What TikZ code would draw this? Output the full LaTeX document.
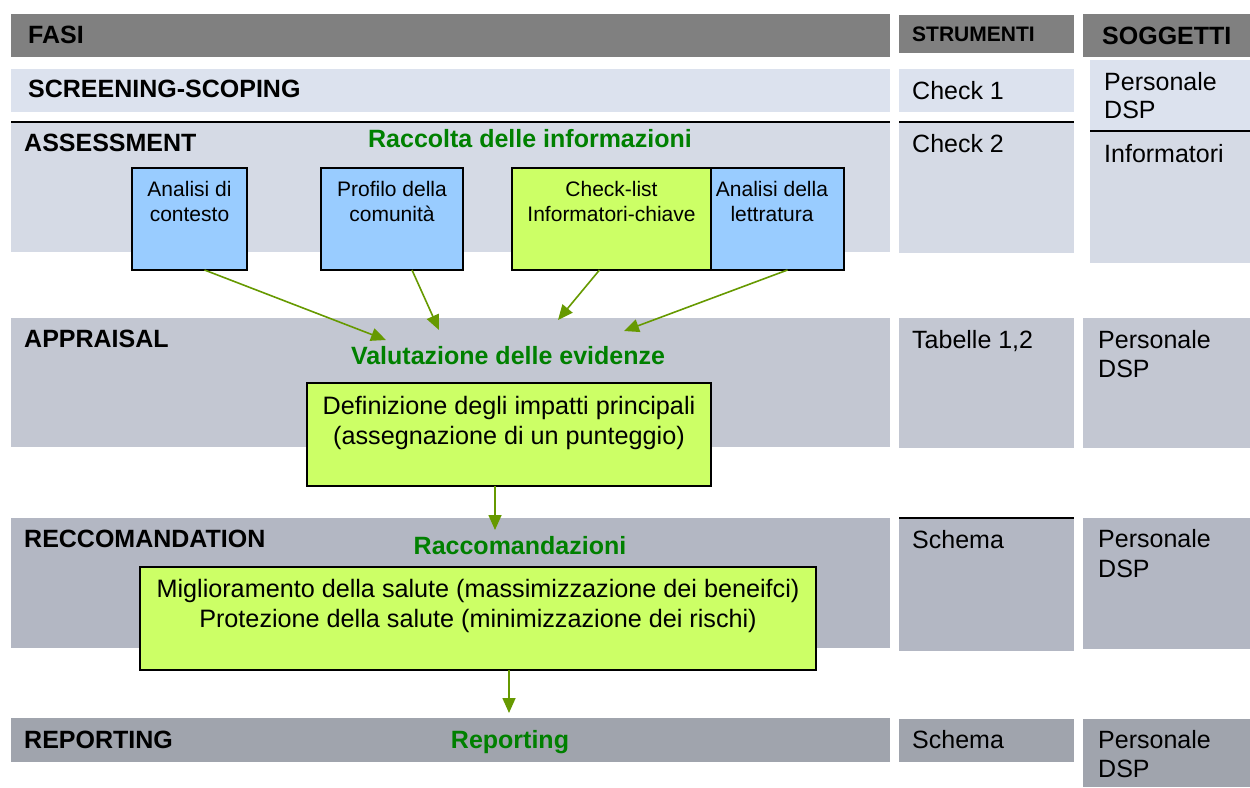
\documentclass[tikz,border=0pt]{standalone}
\usepackage{fontspec}
\setmainfont{Liberation Sans}
\usetikzlibrary{arrows.meta,calc}
\definecolor{hdr}{RGB}{128,128,128}
\definecolor{rowA}{RGB}{220,226,238}
\definecolor{rowB}{RGB}{213,218,229}
\definecolor{rowC}{RGB}{195,199,210}
\definecolor{rowD}{RGB}{179,183,195}
\definecolor{rowE}{RGB}{160,164,173}
\definecolor{boxblue}{RGB}{153,204,255}
\definecolor{boxgreen}{RGB}{204,255,102}
\definecolor{arrowgreen}{RGB}{102,153,0}
\definecolor{labelgreen}{RGB}{0,128,0}
\begin{document}
\begin{tikzpicture}[x=1pt,y=-1pt,
  band/.style={inner sep=0pt, outer sep=0pt, anchor=north west},
  cellbox/.style={band, draw=black, line width=1.5pt},
  heading/.style={font=\fontsize{25}{30}\selectfont\bfseries, inner sep=0pt, anchor=base west},
  smallhead/.style={font=\fontsize{21}{25}\selectfont\bfseries, inner sep=0pt, anchor=base west},
  txt/.style={font=\fontsize{25}{30}\selectfont, inner sep=0pt, anchor=base west},
  ctxt/.style={font=\fontsize{25.2}{30}\selectfont, inner sep=0pt, anchor=base},
  small/.style={font=\fontsize{21}{25}\selectfont, inner sep=0pt, anchor=base},
  glabel/.style={font=\fontsize{25}{30}\selectfont\bfseries, text=labelgreen, inner sep=0pt, anchor=base},
  sepline/.style={draw=black, line width=1.5pt},
  arr/.style={draw=arrowgreen, line width=1.6pt, -{Triangle[length=15pt,width=13pt]}}
]
\useasboundingbox (0,0) rectangle (1250,787);
% ---- bands (FASI column)
\node[band, fill=hdr, minimum width=879pt, minimum height=43pt] (fasiH) at (11,14) {};
\node[band, fill=rowA, minimum width=879pt, minimum height=43pt] (scrB) at (11,69) {};
\node[band, fill=rowB, minimum width=879pt, minimum height=130pt] (assB) at (11,122) {};
\node[band, fill=rowC, minimum width=879pt, minimum height=129pt] (appB) at (11,318) {};
\node[band, fill=rowD, minimum width=879pt, minimum height=130pt] (recB) at (11,518) {};
\node[band, fill=rowE, minimum width=879pt, minimum height=44pt] (repB) at (11,718) {};
\draw[sepline] (assB.north west) -- (assB.north east);
% ---- STRUMENTI column
\node[band, fill=hdr, minimum width=175pt, minimum height=38pt] (strH) at (899,15) {};
\node[band, fill=rowA, minimum width=175pt, minimum height=43pt] (strA) at (899,69) {};
\node[band, fill=rowB, minimum width=175pt, minimum height=131pt] (strB) at (899,122) {};
\node[band, fill=rowC, minimum width=175pt, minimum height=130pt] (strC) at (899,318) {};
\node[band, fill=rowD, minimum width=175pt, minimum height=133pt] (strD) at (899,518) {};
\node[band, fill=rowE, minimum width=175pt, minimum height=43pt] (strE) at (899,719) {};
\draw[sepline] (strB.north west) -- (strB.north east);
\draw[sepline] (strD.north west) -- (strD.north east);
% ---- SOGGETTI column
\node[band, fill=hdr, minimum width=167pt, minimum height=43pt] (sogH) at (1083,14) {};
\node[band, fill=rowA, minimum width=160pt, minimum height=71pt] (sogA) at (1090,60) {};
\node[band, fill=rowB, minimum width=160pt, minimum height=132pt] (sogB) at (1090,131) {};
\node[band, fill=rowC, minimum width=167pt, minimum height=130pt] (sogC) at (1083,318) {};
\node[band, fill=rowD, minimum width=167pt, minimum height=131pt] (sogD) at (1083,518) {};
\node[band, fill=rowE, minimum width=167pt, minimum height=68pt] (sogE) at (1083,719) {};
\draw[sepline] (sogB.north west) -- (sogB.north east);
% ---- boxes
\node[cellbox, fill=boxblue, minimum width=115pt, minimum height=102pt] (ac) at (132,168) {};
\node[cellbox, fill=boxblue, minimum width=142pt, minimum height=102pt] (pc) at (321,168) {};
\node[cellbox, fill=boxgreen, minimum width=199pt, minimum height=102pt] (cl) at (512,168) {};
\node[cellbox, fill=boxblue, minimum width=133pt, minimum height=102pt] (al) at (711,168) {};
\node[cellbox, fill=boxgreen, minimum width=404pt, minimum height=103pt] (def) at (307,383) {};
\node[cellbox, fill=boxgreen, minimum width=676pt, minimum height=103pt] (mig) at (140,567) {};
% ---- arrows
\coordinate (e1) at (386,340);
\coordinate (e2) at (439,330);
\coordinate (e3) at (558,320);
\coordinate (e4) at (624,331);
\coordinate (e5) at (495,530);
\coordinate (e6) at (509,713);
\draw[arr] ($(ac.south)+(15,0)$) -- (e1);
\draw[arr] ($(pc.south)+(20,0)$) -- (e2);
\draw[arr] ($(cl.south)+(-12,0)$) -- (e3);
\draw[arr] ($(al.south)+(10,0)$) -- (e4);
\draw[arr] ($(def.south)+(-14,0)$) -- (e5);
\draw[arr] ($(mig.south)+(31,0)$) -- (e6);
% ---- texts
\node[heading] (tFasi) at (28,43) {FASI};
\node[heading] (tScr) at (28,97) {SCREENING-SCOPING};
\node[heading] (tAss) at (24,151) {ASSESSMENT};
\node[heading] (tApp) at (24,347) {APPRAISAL};
\node[heading] (tRec) at (24,547) {RECCOMANDATION};
\node[heading] (tRep) at (24,748) {REPORTING};
\node[glabel] (gRac) at (530,147) {Raccolta delle informazioni};
\node[glabel] (gVal) at (508,364) {Valutazione delle evidenze};
\node[glabel] (gRacc) at (520,554) {Raccomandazioni};
\node[glabel] (gRep) at (510,748) {Reporting};
\node[small] (ac1) at (189.5,196) {Analisi di};
\node[small] (ac2) at (189.5,221) {contesto};
\node[small] (pc1) at (392,196) {Profilo della};
\node[small] (pc2) at (392,221) {comunità};
\node[small] (cl1) at (611.5,196) {Check-list};
\node[small] (cl2) at (611.5,221) {Informatori-chiave};
\node[small] (al1) at (772,196) {Analisi della};
\node[small] (al2) at (772,221) {lettratura};
\node[ctxt] (df1) at (509,414) {Definizione degli impatti principali};
\node[ctxt] (df2) at (509,444) {(assegnazione di un punteggio)};
\node[ctxt] (mg1) at (478,597) {Miglioramento della salute (massimizzazione dei beneifci)};
\node[ctxt] (mg2) at (478,627) {Protezione della salute (minimizzazione dei rischi)};
\node[smallhead] (tStr) at (912,41) {STRUMENTI};
\node[heading] (tSog) at (1102,44) {SOGGETTI};
\node[txt] (s1) at (912,99) {Check 1};
\node[txt] (s2) at (912,152) {Check 2};
\node[txt] (s3) at (912,348) {Tabelle 1,2};
\node[txt] (s4) at (912,548) {Schema};
\node[txt] (s5) at (912,748) {Schema};
\node[txt] (p1a) at (1104,90) {Personale};
\node[txt] (p1b) at (1104,118) {DSP};
\node[txt] (inf) at (1104,162) {Informatori};
\node[txt] (p2a) at (1098,348) {Personale};
\node[txt] (p2b) at (1098,377) {DSP};
\node[txt] (p3a) at (1098,547) {Personale};
\node[txt] (p3b) at (1098,577) {DSP};
\node[txt] (p4a) at (1098,748) {Personale};
\node[txt] (p4b) at (1098,777) {DSP};
\end{tikzpicture}
\end{document}
